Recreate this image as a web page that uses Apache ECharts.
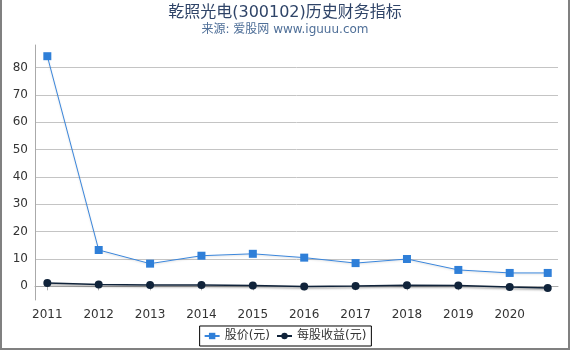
<!DOCTYPE html>
<html lang="zh">
<head>
    <meta charset="UTF-8">
    <title>乾照光电历史财务指标</title>
    <script src="https://cdn.jsdelivr.net/npm/echarts@6/dist/echarts.min.js"></script>
    <style>
        html, body { margin: 0; padding: 0; background: #fff; }
        #main { width: 566px; height: 348px; border: 2px solid #808080; border-top: none; }
    </style>
</head>
<body>
<div id="main"></div>
<script type="text/javascript">
    // 年份（最后一点为2020年末附近）
    var years = [2011, 2012, 2013, 2014, 2015, 2016, 2017, 2018, 2019, 2020, 2020.74];
    var price = [84.2, 13.3, 8.3, 11.2, 11.9, 10.5, 8.5, 10.0, 6.0, 4.9, 4.9];
    var eps = [1.2, 0.7, 0.5, 0.5, 0.3, -0.1, 0.1, 0.4, 0.35, -0.25, -0.6];

    function pairs(xs, ys) {
        return xs.map(function (x, i) { return [x, ys[i]]; });
    }

    var myChart = echarts.init(document.getElementById('main'));

    var font = 'DejaVu Sans, Noto Sans CJK SC, sans-serif';

    var option = {
        animation: false,
        title: {
            text: '乾照光电(300102)历史财务指标',
            subtext: '来源: 爱股网 www.iguuu.com',
            left: 'center',
            top: 0,
            itemGap: 3,
            textStyle: { fontFamily: font, fontSize: 16, fontWeight: 'normal', color: '#2f4468' },
            subtextStyle: { fontFamily: font, fontSize: 12, color: '#4f6f98' }
        },
        legend: {
            bottom: 2,
            left: 'center',
            borderColor: '#000',
            borderWidth: 1,
            padding: [4, 5, 4, 4],
            itemGap: 6,
            itemWidth: 15,
            itemHeight: 8,
            textStyle: { fontFamily: font, fontSize: 12, color: '#333' },
            data: ['股价(元)', '每股收益(元)']
        },
        grid: { left: 33, right: 10, top: 45, bottom: 48 },
        xAxis: {
            type: 'value',
            min: 2010.76,
            max: 2020.94,
            splitNumber: 10,
            axisLine: { show: true, lineStyle: { color: '#aaa' } },
            axisTick: { show: true, length: 4, lineStyle: { color: '#aaa' } },
            splitLine: { show: false },
            axisLabel: {
                showMinLabel: false,
                showMaxLabel: false,
                fontFamily: font,
                fontSize: 12,
                color: '#333',
                margin: 9,
                formatter: function (v) { return String(v); }
            }
        },
        yAxis: {
            type: 'value',
            min: -5,
            max: 88.3,
            splitNumber: 9,
            axisLine: { show: true, lineStyle: { color: '#aaa' } },
            axisTick: { show: false },
            splitLine: { show: true, showMinLine: false, showMaxLine: false, lineStyle: { color: '#c4c4c4' } },
            axisLabel: {
                showMinLabel: false,
                showMaxLabel: false,
                fontFamily: font,
                fontSize: 12,
                color: '#333',
                margin: 7
            }
        },
        series: [
            {
                name: '股价(元)',
                type: 'line',
                data: pairs(years, price),
                symbol: 'rect',
                symbolSize: 8,
                itemStyle: { color: '#2f7fd8' },
                lineStyle: { width: 1, color: '#3a86dc', shadowColor: 'rgba(0,0,0,0.15)', shadowBlur: 2, shadowOffsetY: 1 }
            },
            {
                name: '每股收益(元)',
                type: 'line',
                data: pairs(years, eps),
                symbol: 'circle',
                symbolSize: 8,
                itemStyle: { color: '#10233a' },
                lineStyle: { width: 1.5, color: '#10233a', shadowColor: 'rgba(0,0,0,0.4)', shadowBlur: 2, shadowOffsetY: 1.5 }
            }
        ]
    };

    myChart.setOption(option);
</script>
</body>
</html>
